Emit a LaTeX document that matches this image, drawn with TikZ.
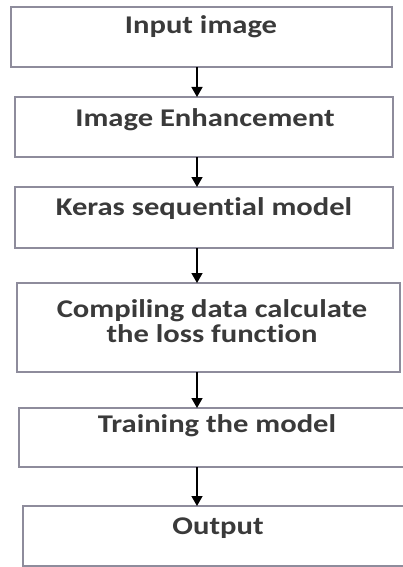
\documentclass[tikz,border=0pt]{standalone}
\usepackage{fontspec}
\setmainfont{Carlito}[FakeStretch=1.2,Ligatures=NoCommon]
\usetikzlibrary{arrows.meta}
\definecolor{boxline}{HTML}{8E8C9C}
\definecolor{boxtext}{HTML}{3A3A3A}
\tikzset{
  px/.style={x=1pt,y=-1pt},
  stepbox/.style={draw=boxline,line width=1.3pt,fill=white},
  steptext/.style={text=boxtext,font=\fontsize{25.5}{25}\selectfont\bfseries,align=center,anchor=base,inner sep=0pt},
  flow/.style={-{Triangle[length=10pt,width=11pt]},line width=1.4pt,black}
}
\begin{document}
\begin{tikzpicture}[px]
\useasboundingbox (0,0) rectangle (403,567);
% process boxes
\draw[stepbox] (11,7) rectangle (392,67);
\draw[stepbox] (15,97) rectangle (393,157);
\draw[stepbox] (15,187) rectangle (393,248);
\draw[stepbox] (17,283) rectangle (400,372);
\draw[stepbox] (19,408) rectangle (410,467);
\draw[stepbox] (23,506) rectangle (410,566);
% labels, placed on their (last) baselines
\node[steptext] (t1) at (201,34) {Input image};
\node[steptext] (t2) at (205,126) {Image Enhancement};
\node[steptext] (t3) at (204,215) {Keras sequential model};
\node[steptext] (t4) at (212,342) {Compiling data calculate\\the loss function};
\node[steptext] (t5) at (217,432) {Training the model};
\node[steptext] (t6) at (218,534) {Output};
% connection points between the boxes
\coordinate (a1) at (197,67);  \coordinate (b1) at (197,97);
\coordinate (a2) at (197,157); \coordinate (b2) at (197,187);
\coordinate (a3) at (197,248); \coordinate (b3) at (197,283);
\coordinate (a4) at (197,372); \coordinate (b4) at (197,408);
\coordinate (a5) at (197,467); \coordinate (b5) at (197,506);
\draw[flow] (a1) -- (b1);
\draw[flow] (a2) -- (b2);
\draw[flow] (a3) -- (b3);
\draw[flow] (a4) -- (b4);
\draw[flow] (a5) -- (b5);
\end{tikzpicture}
\end{document}
